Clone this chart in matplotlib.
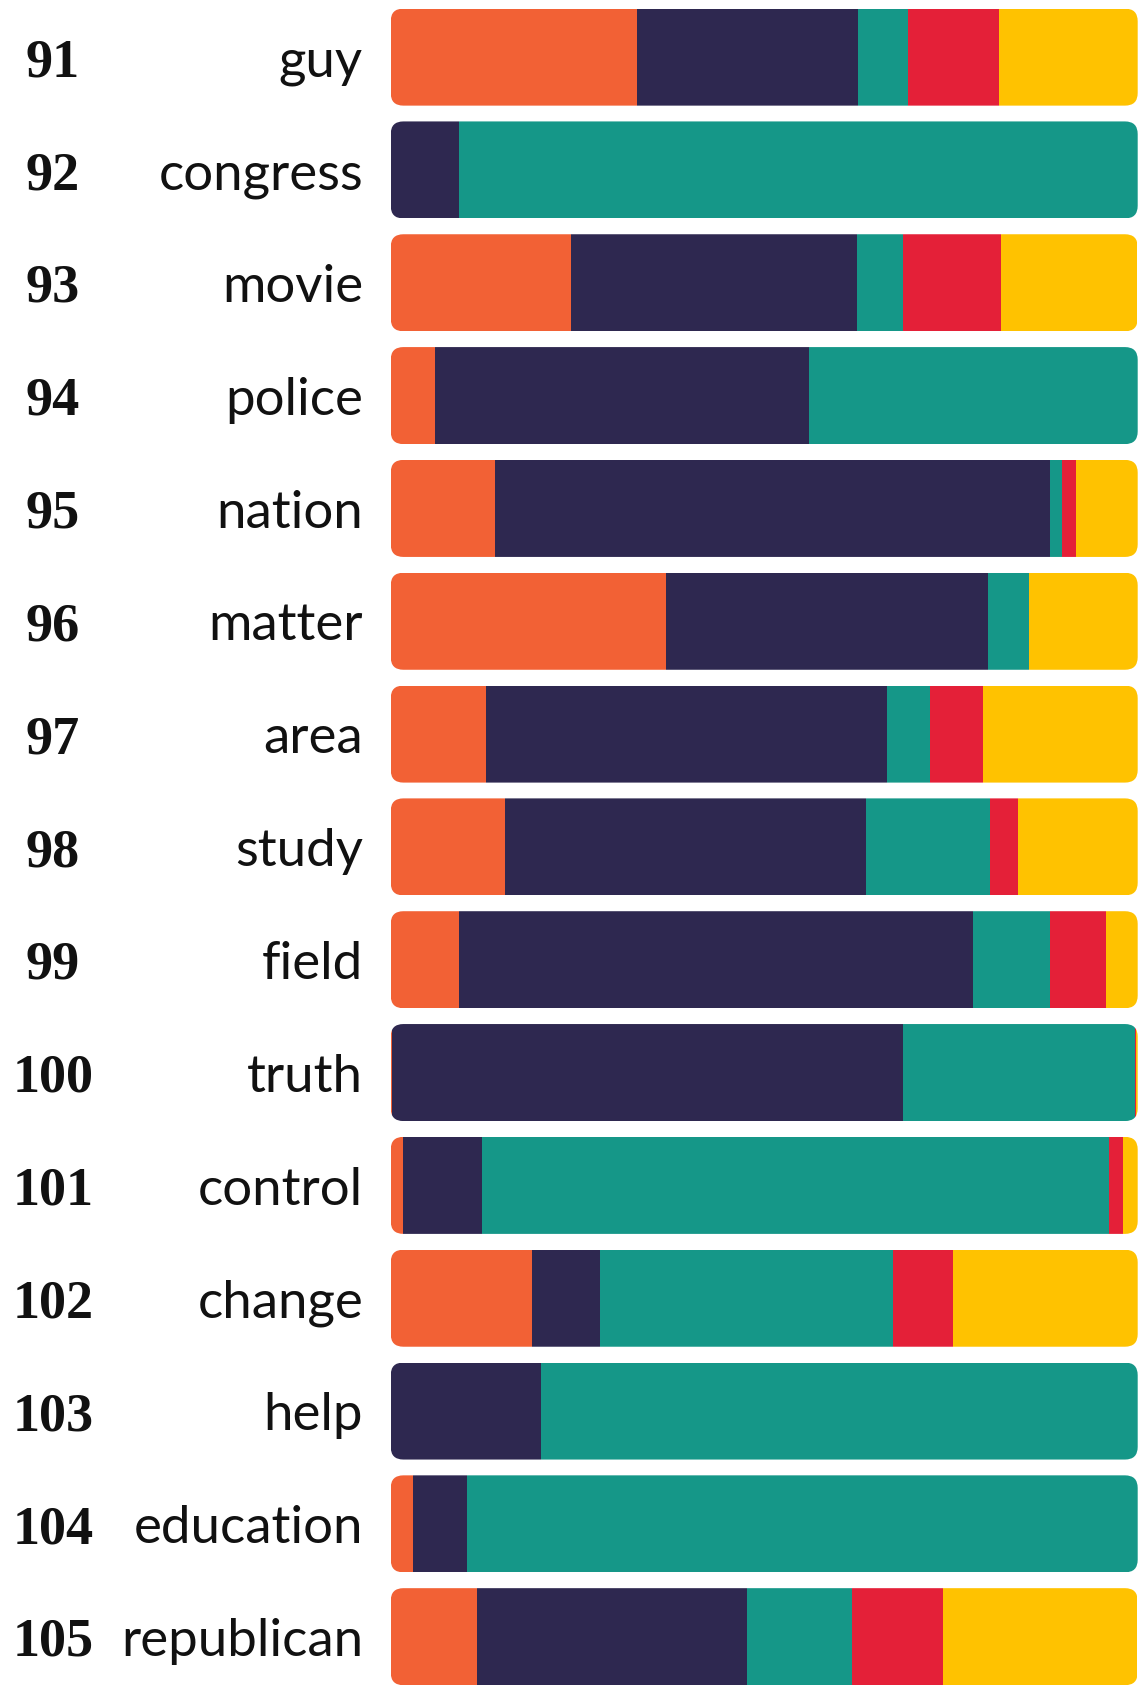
import matplotlib
matplotlib.use("Agg")
import matplotlib.pyplot as plt
import matplotlib.transforms as mtransforms
from matplotlib.patches import FancyBboxPatch
import numpy as np

ranks = [91, 92, 93, 94, 95, 96, 97, 98, 99, 100, 101, 102, 103, 104, 105]
words = ["guy", "congress", "movie", "police", "nation", "matter", "area", "study",
         "field", "truth", "control", "change", "help", "education", "republican"]

# share of each word per category (left to right)
orange = [0.330, 0.000, 0.242, 0.059, 0.140, 0.369, 0.127, 0.153, 0.091, 0.002, 0.016, 0.189, 0.000, 0.030, 0.115]
navy   = [0.295, 0.092, 0.382, 0.501, 0.742, 0.430, 0.537, 0.483, 0.688, 0.684, 0.106, 0.091, 0.201, 0.072, 0.362]
teal   = [0.068, 0.908, 0.062, 0.440, 0.017, 0.055, 0.058, 0.166, 0.104, 0.310, 0.840, 0.392, 0.799, 0.898, 0.141]
red    = [0.121, 0.000, 0.131, 0.000, 0.019, 0.000, 0.071, 0.038, 0.074, 0.002, 0.018, 0.081, 0.000, 0.000, 0.121]
yellow = [0.186, 0.000, 0.182, 0.000, 0.082, 0.146, 0.208, 0.160, 0.043, 0.002, 0.020, 0.247, 0.000, 0.000, 0.260]

series = [orange, navy, teal, red, yellow]
colors = ["#F26135", "#2E2850", "#159788", "#E42038", "#FFC200"]

W, H = 1143, 1691
fig = plt.figure(figsize=(W / 100, H / 100), dpi=100)
ax = fig.add_axes([390.7 / W, -2.1 / H, 747 / W, 1692.4 / H])
ax.set_xlim(0, 1)
ax.set_ylim(len(words) - 0.5, -0.5)
ax.axis("off")

bar_h = 0.86
y = np.arange(len(words))
left = np.zeros(len(words))
bars = []
for vals, c in zip(series, colors):
    b = ax.barh(y, vals, left=left, height=bar_h, color=c, linewidth=0)
    bars.append(b)
    left += np.array(vals)

# rounded outline per row, used as clip path
aspect = (747 / 1.0) / (1692.4 / len(words))
for i in range(len(words)):
    clip = FancyBboxPatch((0, i - bar_h / 2), 1, bar_h,
                          boxstyle="round,pad=0,rounding_size=0.017",
                          mutation_aspect=aspect, transform=ax.transData,
                          facecolor="none", edgecolor="none")
    ax.add_patch(clip)
    for b in bars:
        b.patches[i].set_clip_path(clip)

trans = mtransforms.blended_transform_factory(fig.transFigure, ax.transData)
for i, (r, w) in enumerate(zip(ranks, words)):
    ax.text(53 / W, i + 0.17, str(r), transform=trans, ha="center", va="baseline",
            fontsize=39, fontweight="bold", family="Liberation Serif", color="#111111")
    ax.text(363 / W, i + 0.17, w, transform=trans, ha="right", va="baseline",
            fontsize=38, family="Lato", color="#111111")

fig.savefig("out.png", dpi=100, facecolor="white")
